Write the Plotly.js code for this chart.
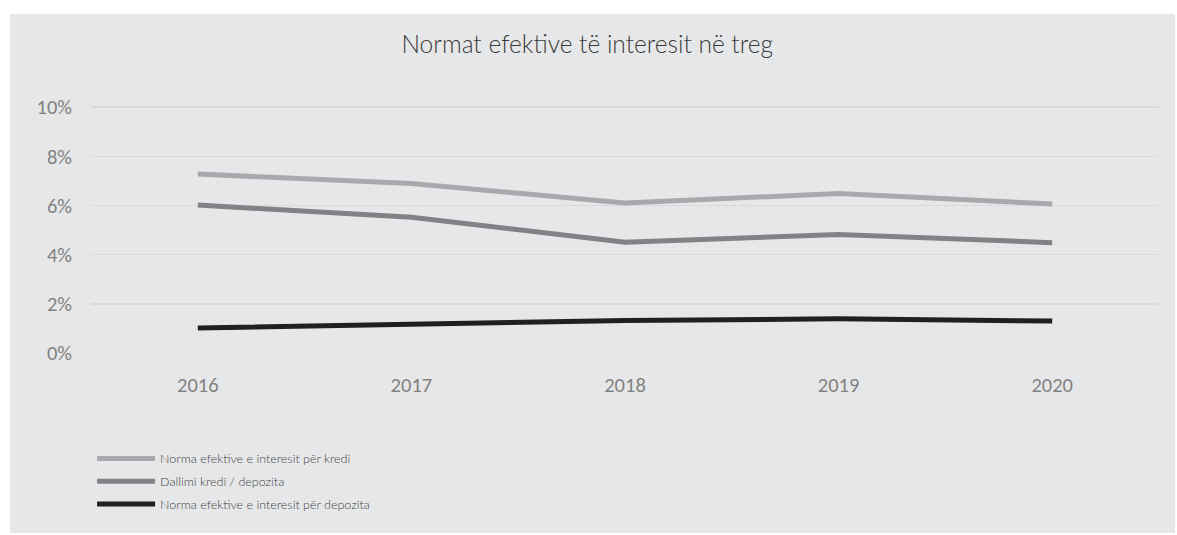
<!DOCTYPE html>
<html>
<head>
<meta charset="utf-8">
<script src="https://cdn.plot.ly/plotly-3.0.1.min.js"></script>
<style>
  html, body { margin: 0; padding: 0; background: #ffffff; }
  #chart { position: absolute; left: 10px; top: 14px; width: 1165px; height: 519px; }
</style>
</head>
<body>
<div id="chart"></div>
<script>
const years = ["2016", "2017", "2018", "2019", "2020"];
const kredi = [7.28, 6.90, 6.10, 6.49, 6.06];
const dallimi = [6.02, 5.52, 4.51, 4.82, 4.49];
const depozita = [1.02, 1.17, 1.32, 1.39, 1.30];
const seriesNames = [
  "Norma efektive e interesit për kredi",
  "Dallimi kredi / depozita",
  "Norma efektive e interesit për depozita"
];
const colors = ["#a7a9ac", "#808285", "#231f20"];
const yTickVals = [0, 2, 4, 6, 8, 10];
const yTickText = ["0%", "2%", "4%", "6%", "8%", "10%"];

const allSeries = [kredi, dallimi, depozita];
const traces = allSeries.map((vals, i) => ({
  x: years,
  y: vals,
  name: seriesNames[i],
  legendgroup: "g" + i,
  type: "scatter",
  mode: "lines",
  line: { color: colors[i], width: 5 }
}));

const tickFont = { family: "Carlito, 'Open Sans', 'Liberation Sans', sans-serif", size: 20.5, color: "#828282" };

const layout = {
  width: 1165,
  height: 519,
  paper_bgcolor: "#e6e7e8",
  plot_bgcolor: "#e6e7e8",
  margin: { l: 81, r: 16, t: 92, b: 180 },
  title: {
    text: "Normat efektive të interesit në treg",
    font: { family: "Lato, 'Open Sans', sans-serif", size: 24.5, color: "#3a3a3a", weight: 300 },
    x: 0.4955, xanchor: "center", xref: "container",
    y: 1 - 30 / 519, yanchor: "middle", yref: "container"
  },
  xaxis: {
    type: "category",
    range: [-0.5, 4.5],
    showgrid: false,
    zeroline: false,
    showline: false,
    ticks: "",
    tickfont: tickFont,
    ticklabelstandoff: 17
  },
  yaxis: {
    range: [0, 10.05],
    tickvals: yTickVals,
    ticktext: yTickText,
    showgrid: true,
    gridcolor: "#d9dadc",
    gridwidth: 1.5,
    zeroline: false,
    showline: false,
    ticks: "",
    tickfont: tickFont,
    ticklabelstandoff: 18
  },
  showlegend: true,
  legend: {
    orientation: "v",
    x: 0.001, xanchor: "left",
    y: -0.368, yanchor: "top",
    bgcolor: "rgba(0,0,0,0)",
    font: { family: "Lato, 'Open Sans', sans-serif", size: 12.5, color: "#444444", weight: 300 },
    itemwidth: 58,
    tracegroupgap: 3.5
  },
  hovermode: false
};

Plotly.newPlot("chart", traces, layout, { displayModeBar: false, staticPlot: true });
</script>
</body>
</html>
